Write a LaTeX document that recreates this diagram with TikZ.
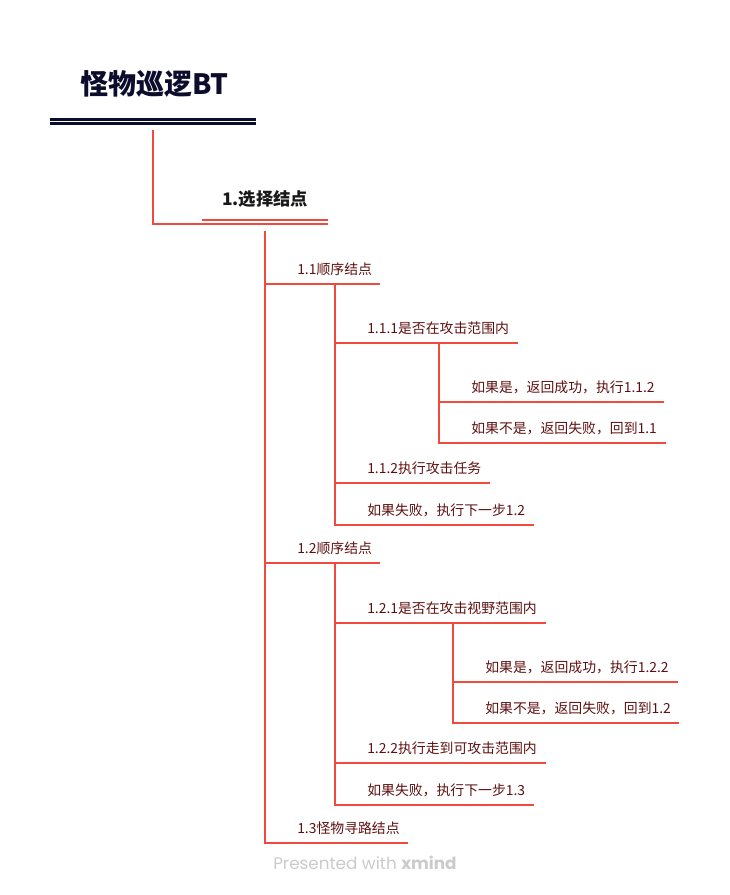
\documentclass[tikz,border=0pt]{standalone}
\usepackage{fontspec}
\setmainfont{Noto Sans CJK SC}
\newfontfamily\cjk{Noto Sans CJK SC}
\newfontfamily\latinsans{Poppins}
\definecolor{lred}{HTML}{F04A3E}
\definecolor{navy}{HTML}{0C0C2C}
\definecolor{maroon}{HTML}{5E1010}
\definecolor{wm}{HTML}{CBCBCB}
\begin{document}
\begin{tikzpicture}[x=0.75pt,y=-0.75pt,
  conn/.style={draw=lred,line width=1.5pt,line cap=rect},
  lbl/.style={anchor=base west,inner sep=0pt,text=maroon,font=\cjk\fontsize{10.4pt}{12pt}\selectfont},
  titlelbl/.style={anchor=base west,inner sep=0pt,text=navy,font=\cjk\bfseries\fontsize{21pt}{24pt}\selectfont},
  mainlbl/.style={anchor=base west,inner sep=0pt,text=black!90,font=\cjk\bfseries\fontsize{13pt}{15pt}\selectfont}]
\useasboundingbox (0,0) rectangle (729,895);
% title
\node[titlelbl] (title) at (80,95) {怪物巡逻BT};
\coordinate (tl1a) at (50,119.5); \coordinate (tl1b) at (256,119.5);
\coordinate (tl2a) at (50,123.5); \coordinate (tl2b) at (256,123.5);
\draw[navy,line width=1.6pt] (tl1a) -- (tl1b);
\draw[navy,line width=1.6pt] (tl2a) -- (tl2b);
% level 1
\node[mainlbl] (n1) at (222,205) {1.选择结点};
\coordinate (r0) at (153,131);
\coordinate (r1) at (153,224); \coordinate (r1e) at (327,224);
\coordinate (r1u) at (203,220); \coordinate (r1ue) at (327,220);
\draw[conn] (r0) -- (r1) -- (r1e);
\draw[conn] (r1u) -- (r1ue);
% level 2 trunk
\coordinate (v2) at (265,232);
\coordinate (b11) at (265,284); \coordinate (e11) at (379,284);
\coordinate (b12) at (265,563); \coordinate (e12) at (379,563);
\coordinate (b13) at (265,843); \coordinate (e13) at (407,843);
\draw[conn] (v2) -- (b13) -- (e13);
\draw[conn] (b11) -- (e11);
\draw[conn] (b12) -- (e12);
\node[lbl] (t11) at (297,274) {1.1顺序结点};
\node[lbl] (t12) at (297,553) {1.2顺序结点};
\node[lbl] (t13) at (297,833) {1.3怪物寻路结点};
% 1.1 children
\coordinate (v11) at (335,284);
\coordinate (b111) at (335,343); \coordinate (e111) at (517,343);
\coordinate (b112) at (335,483); \coordinate (e112) at (489,483);
\coordinate (b11f) at (335,525); \coordinate (e11f) at (533,525);
\draw[conn] (v11) -- (b11f) -- (e11f);
\draw[conn] (b111) -- (e111);
\draw[conn] (b112) -- (e112);
\node[lbl] (t111) at (367,333) {1.1.1是否在攻击范围内};
\node[lbl] (t112) at (367,473) {1.1.2执行攻击任务};
\node[lbl] (t11f) at (367,515) {如果失败，执行下一步1.2};
% 1.1.1 children
\coordinate (v111) at (439,343);
\coordinate (b111y) at (439,402); \coordinate (e111y) at (663,402);
\coordinate (b111n) at (439,443); \coordinate (e111n) at (665,443);
\draw[conn] (v111) -- (b111n) -- (e111n);
\draw[conn] (b111y) -- (e111y);
\node[lbl] (t111y) at (471,392) {如果是，返回成功，执行1.1.2};
\node[lbl] (t111n) at (471,433) {如果不是，返回失败，回到1.1};
% 1.2 children
\coordinate (v12) at (335,563);
\coordinate (b121) at (335,623); \coordinate (e121) at (545,623);
\coordinate (b122) at (335,763); \coordinate (e122) at (545,763);
\coordinate (b12f) at (335,805); \coordinate (e12f) at (533,805);
\draw[conn] (v12) -- (b12f) -- (e12f);
\draw[conn] (b121) -- (e121);
\draw[conn] (b122) -- (e122);
\node[lbl] (t121) at (367,613) {1.2.1是否在攻击视野范围内};
\node[lbl] (t122) at (367,753) {1.2.2执行走到可攻击范围内};
\node[lbl] (t12f) at (367,795) {如果失败，执行下一步1.3};
% 1.2.1 children
\coordinate (v121) at (453,623);
\coordinate (b121y) at (453,682); \coordinate (e121y) at (677,682);
\coordinate (b121n) at (453,723); \coordinate (e121n) at (678,723);
\draw[conn] (v121) -- (b121n) -- (e121n);
\draw[conn] (b121y) -- (e121y);
\node[lbl] (t121y) at (485,672) {如果是，返回成功，执行1.2.2};
\node[lbl] (t121n) at (485,713) {如果不是，返回失败，回到1.2};
% watermark
\node[anchor=base west,inner sep=0pt,text=wm,font=\latinsans\fontsize{12.6pt}{15pt}\selectfont] (wmk) at (273,869) {Presented with \textbf{xmind}};
\end{tikzpicture}
\end{document}
